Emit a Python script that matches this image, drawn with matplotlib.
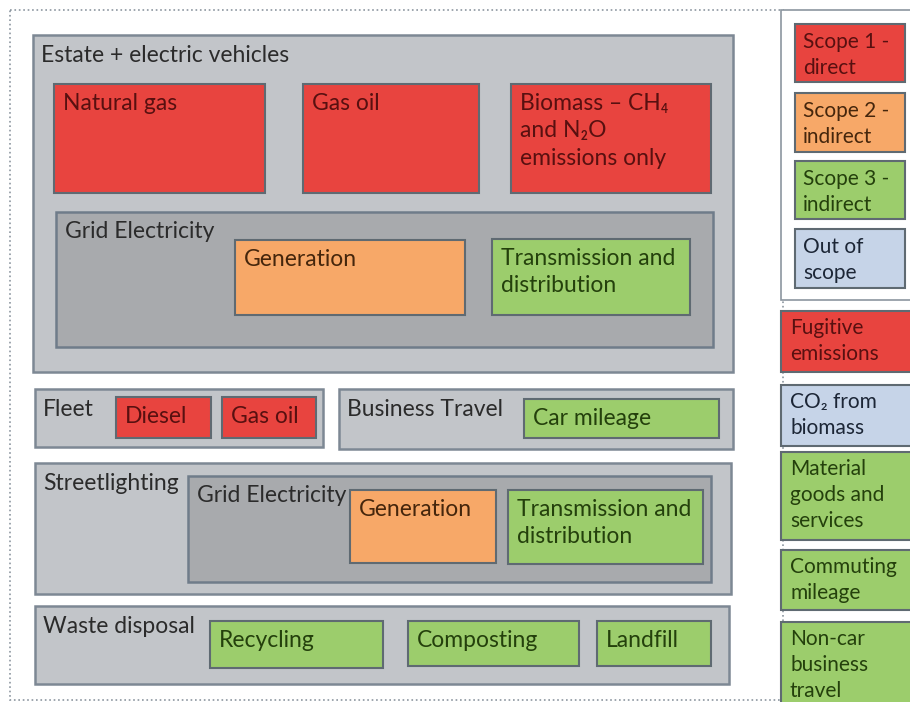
import matplotlib.pyplot as plt
from matplotlib.patches import Rectangle

plt.rcParams['font.family'] = ['Lato', 'DejaVu Sans']

# --- colours per scope ---
fills = {
    'group': '#c2c5c9',
    'grid': '#a8aaad',
    'scope1': '#e8443f',
    'scope2': '#f7a868',
    'scope3': '#9ccd6c',
    'out': '#c6d4e8',
}
text_cols = {
    'group': '#2b2b2b',
    'grid': '#2b2b2b',
    'scope1': '#581010',
    'scope2': '#45260c',
    'scope3': '#24400c',
    'out': '#1c2636',
}

# --- diagram content: label, kind ---
group_labels = ['Estate + electric vehicles', 'Fleet', 'Business Travel',
                'Streetlighting', 'Waste disposal']
grid_labels = ['Grid Electricity', 'Grid Electricity']
source_labels = ['Natural gas', 'Gas oil', 'Biomass – CH\u2084\nand N\u2082O\nemissions only',
                 'Generation', 'Transmission and\ndistribution',
                 'Diesel', 'Gas oil', 'Car mileage',
                 'Generation', 'Transmission and\ndistribution',
                 'Recycling', 'Composting', 'Landfill']
source_scopes = ['scope1', 'scope1', 'scope1', 'scope2', 'scope3',
                 'scope1', 'scope1', 'scope3', 'scope2', 'scope3',
                 'scope3', 'scope3', 'scope3']
key_labels = ['Scope 1 -\ndirect', 'Scope 2 -\nindirect', 'Scope 3 -\nindirect',
              'Out of\nscope']
key_scopes = ['scope1', 'scope2', 'scope3', 'out']
side_labels = ['Fugitive\nemissions', 'CO\u2082 from\nbiomass',
               'Material\ngoods and\nservices', 'Commuting\nmileage',
               'Non-car\nbusiness\ntravel']
side_scopes = ['scope1', 'out', 'scope3', 'scope3', 'scope3']

# --- layout in pixel coordinates (x0, y0, x1, y1) ---
group_boxes = [(33, 35, 733, 372), (35, 389, 323, 447), (339, 389, 733, 449),
               (35, 463, 731, 594), (35, 606, 729, 684)]
grid_boxes = [(56, 212, 713, 347), (188, 476, 711, 582)]
source_boxes = [(54, 84, 265, 193), (303, 84, 479, 193), (511, 84, 711, 193),
                (235, 240, 465, 315), (492, 239, 690, 315),
                (116, 397, 211, 438), (222, 397, 316, 438), (524, 399, 719, 438),
                (350, 490, 496, 563), (508, 490, 703, 564),
                (210, 621, 383, 668), (408, 621, 579, 666), (597, 621, 711, 666)]
key_boxes = [(795, 24, 905, 82), (795, 93, 905, 152), (795, 161, 905, 219),
             (795, 229, 905, 288)]
side_boxes = [(781, 311, 912, 372), (781, 385, 912, 446), (781, 452, 912, 540),
              (781, 550, 912, 610), (781, 622, 912, 704)]


def box(ax, b, fc, ec, lw=1.5, ls='-', z=1):
    x0, y0, x1, y1 = b
    ax.add_patch(Rectangle((x0, y0), x1 - x0, y1 - y0, facecolor=fc,
                           edgecolor=ec, linewidth=lw, linestyle=ls, zorder=z))


def label(ax, b, s, color, dx=10, dy=10, size=16.5, ls=1.38):
    ax.text(b[0] + dx, b[1] + dy, s, ha='left', va='top', fontsize=size,
            color=color, linespacing=ls, zorder=10)


fig = plt.figure(figsize=(9.1, 7.02), dpi=100)
ax = fig.add_axes([0, 0, 1, 1])
ax.set_xlim(0, 910)
ax.set_ylim(702, 0)
ax.axis('off')

# outer dotted frame and key frame
box(ax, (10, 10, 783, 700), 'white', '#8c96a0', lw=1.2, ls=':', z=0)
box(ax, (781, 10, 912, 300), 'white', '#8c96a0', lw=1.2, z=0)

for b, s in zip(group_boxes, group_labels):
    box(ax, b, fills['group'], '#7d8894', lw=1.8, z=1)
    label(ax, b, s, text_cols['group'], dx=8, dy=10)

for b, s in zip(grid_boxes, grid_labels):
    box(ax, b, fills['grid'], '#6f7c8a', lw=1.8, z=2)
    label(ax, b, s, text_cols['grid'], dx=9, dy=9)

for b, s, k in zip(source_boxes, source_labels, source_scopes):
    box(ax, b, fills[k], '#5f6a72', lw=1.5, z=3)
    label(ax, b, s, text_cols[k], dx=9, dy=9)

for b, s, k in zip(key_boxes, key_labels, key_scopes):
    box(ax, b, fills[k], '#5f6a72', lw=1.5, z=3)
    label(ax, b, s, text_cols[k], dx=8, dy=8, size=15, ls=1.36)

for b, s, k in zip(side_boxes, side_labels, side_scopes):
    box(ax, b, fills[k], '#5f6a72', lw=1.5, z=3)
    label(ax, b, s, text_cols[k], dx=9, dy=7, size=15, ls=1.36)

fig.savefig('out.png', dpi=100)
